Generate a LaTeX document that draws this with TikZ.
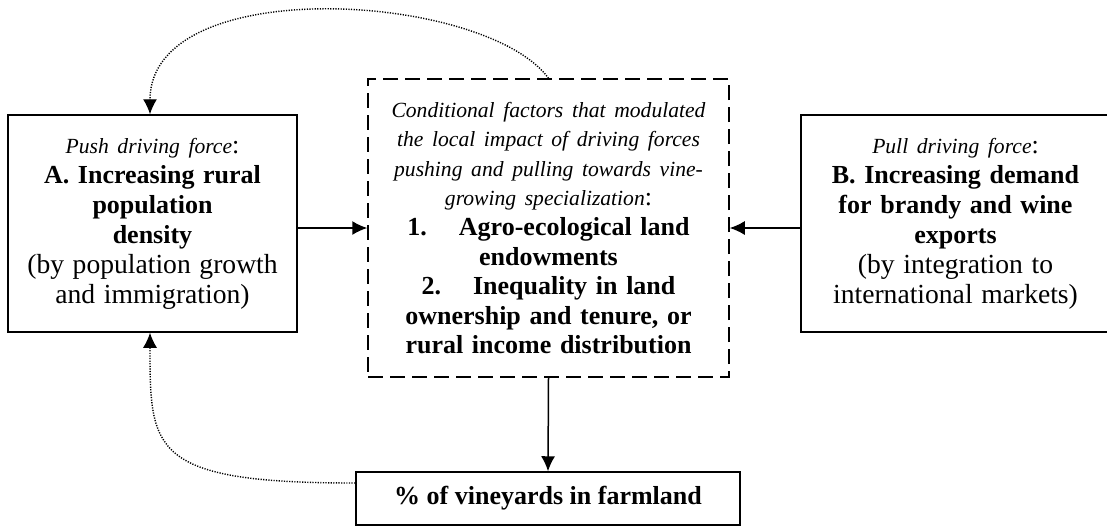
\documentclass[tikz,border=0pt]{standalone}
\usepackage{fontspec}
\setmainfont{Liberation Serif}
\usetikzlibrary{arrows.meta}

\newcommand{\itlabel}[1]{{\fontsize{10.8}{15}\selectfont\normalfont\itshape #1}}
\newcommand{\plainlabel}[1]{{\fontsize{13.8}{15}\selectfont #1}}

\begin{document}
\begin{tikzpicture}[x=0.5pt,y=-0.5pt,
    box/.style={draw, line width=0.75pt, inner sep=0pt, align=center,
                font=\fontsize{13}{15}\selectfont},
    condbox/.style={box, dash pattern=on 7.5pt off 3.5pt},
    flow/.style={-{Latex[length=7.5pt,width=7pt]}, line width=0.75pt},
    feedback/.style={-{Latex[length=7.5pt,width=7pt]}, line width=0.7pt,
                     dash pattern=on 0.6pt off 0.7pt}]

                \useasboundingbox (0,0) rectangle (1107,527);

                %Push
                \node[box, minimum width=144.5pt, minimum height=108.5pt, text width=142pt]
                    (push) at (152.5,223.5)
                    {\itlabel{Push driving force}:\\
                     \textbf{A. Increasing rural}\\
                     \textbf{population}\\
                     \textbf{density}\\
                     \plainlabel{(by population growth}\\
                     \plainlabel{and immigration)}};

                %Pull
                \node[box, minimum width=154.5pt, minimum height=108.5pt, text width=150pt]
                    (pull) at (955.5,223.5)
                    {\itlabel{Pull driving force}:\\
                     \textbf{B. Increasing demand}\\
                     \textbf{for brandy and wine}\\
                     \textbf{exports}\\
                     \plainlabel{(by integration to}\\
                     \plainlabel{international markets)}};

                %% conditional factors
                \node[condbox, minimum width=180.5pt, minimum height=149pt, text width=176pt,
                      font=\fontsize{13}{14.8}\selectfont]
                    (cond) at (548.5,228)
                    {\itlabel{Conditional factors that modulated}\\
                     \itlabel{the local impact of driving forces}\\
                     \itlabel{pushing and pulling towards vine-}\\
                     \itlabel{growing specialization}:\\
                     \textbf{1.\hspace{16pt}Agro-ecological land}\\
                     \textbf{endowments}\\
                     \textbf{2.\hspace{16pt}Inequality in land}\\
                     \textbf{ownership and tenure, or}\\
                     \textbf{rural income distribution}};

                %% outcome
                \node[box, minimum width=192pt, minimum height=26.5pt]
                    (share) at (548,498.5)
                    {\textbf{\% of vineyards in farmland}};

                %% arrows
                \draw[flow] (push.east |- cond.west) -- (cond.west);
                \draw[flow] (pull.west |- cond.east) -- (cond.east);
                \draw[flow] (cond.south) -- (share.north);

                %feedback
                \draw[feedback] (cond.north) .. controls (485,-8) and (150,-28) .. ([xshift=-1.25pt]push.north);
                \draw[feedback] ([yshift=7.75pt]share.west) .. controls (150,483) and (150,450) .. ([xshift=-1.25pt]push.south);

            \end{tikzpicture}
\end{document}
